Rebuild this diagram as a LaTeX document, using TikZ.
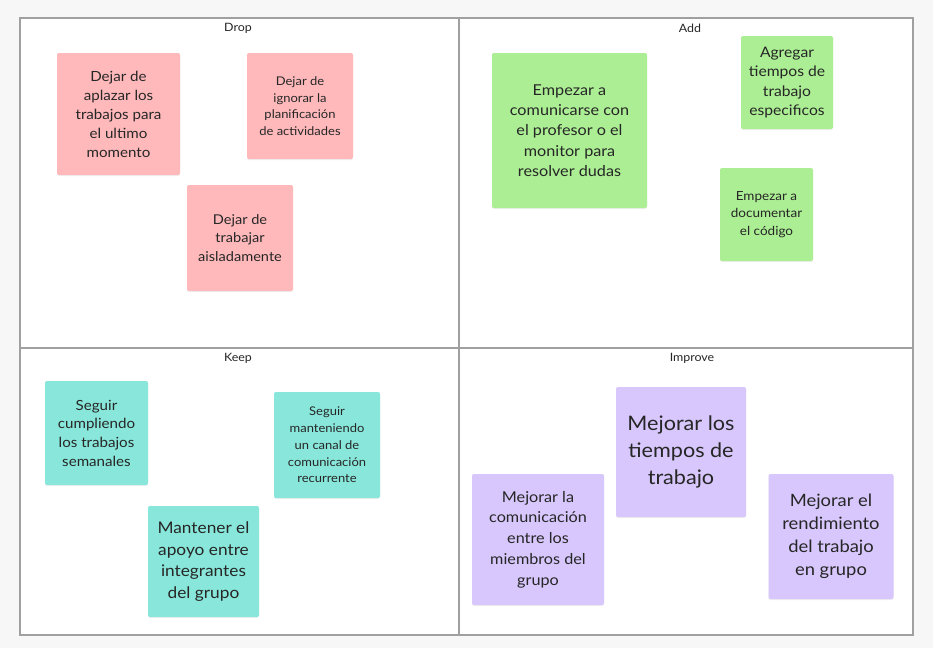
\documentclass[tikz,border=0pt]{standalone}
\usepackage{fontspec}
\setmainfont{Lato}[FakeStretch=1.08]
\usepackage{tikz}
\usetikzlibrary{shadows}
\definecolor{dropc}{HTML}{FFB9BB}
\definecolor{addc}{HTML}{ACEE94}
\definecolor{keepc}{HTML}{88E7DA}
\definecolor{imprc}{HTML}{D7C7FC}
\definecolor{framec}{HTML}{A0A0A0}
\newcommand\fsz[2]{\fontsize{#1}{#2}\selectfont}

\begin{document}
\begin{tikzpicture}[x=1pt,y=-1pt,
  note/.style={rectangle,rounded corners=2pt,align=center,inner sep=0pt,text=black!85,
    drop shadow={opacity=0.12,shadow xshift=0pt,shadow yshift=-1pt}},
  dropnote/.style={note,fill=dropc},
  addnote/.style={note,fill=addc},
  keepnote/.style={note,fill=keepc},
  imprnote/.style={note,fill=imprc},
  title/.style={font=\fsz{11.5}{13},text=black!85}]
% background and frame
\fill[black!3] (0,0) rectangle (933,648);
\fill[white] (20,18) rectangle (913,635);
\draw[framec,line width=1.3pt] (20,18) rectangle (913,635);
\draw[framec,line width=1.3pt] (459,18) -- (459,635);
\draw[framec,line width=1.3pt] (20,348) -- (913,348);
% quadrant titles
\node[title] (tdrop) at (238,28) {Drop};
\node[title] (tadd) at (690,28) {Add};
\node[title] (tkeep) at (238,358) {Keep};
\node[title] (timpr) at (692,358) {Improve};
% Drop
\node[dropnote,minimum width=123pt,minimum height=122pt,font=\fsz{14}{19}] (d1) at (118.5,114) {Dejar de\\aplazar los\\trabajos para\\el ultimo\\momento};
\node[dropnote,minimum width=106pt,minimum height=106pt,font=\fsz{12}{16.7}] (d2) at (300,106) {Dejar de\\ignorar la\\planificación\\de actividades};
\node[dropnote,minimum width=106pt,minimum height=106pt,font=\fsz{13.5}{18.5}] (d3) at (240,238) {Dejar de\\trabajar\\aisladamente};
% Add
\node[addnote,minimum width=155pt,minimum height=155pt,font=\fsz{15}{20.3}] (a1) at (569.5,130.5) {Empezar a\\comunicarse con\\el profesor o el\\monitor para\\resolver dudas};
\node[addnote,minimum width=92pt,minimum height=93pt,font=\fsz{14.5}{19.3}] (a2) at (787,82.5) {Agregar\\tiempos de\\trabajo\\especificos};
\node[addnote,minimum width=93pt,minimum height=93pt,font=\fsz{12.5}{17.3}] (a3) at (766.5,214.5) {Empezar a\\documentar\\el código};
% Keep
\node[keepnote,minimum width=103pt,minimum height=104pt,font=\fsz{14}{18.7}] (k1) at (96.5,433) {Seguir\\cumpliendo\\los trabajos\\semanales};
\node[keepnote,minimum width=106pt,minimum height=106pt,font=\fsz{12}{16.7}] (k2) at (327,445) {Seguir\\manteniendo\\un canal de\\comunicación\\recurrente};
\node[keepnote,minimum width=111pt,minimum height=111pt,font=\fsz{16}{21.7}] (k3) at (203.5,561.5) {Mantener el\\apoyo entre\\integrantes\\del grupo};
% Improve
\node[imprnote,minimum width=132pt,minimum height=131pt,font=\fsz{15}{20.7}] (i1) at (538,539.5) {Mejorar la\\comunicación\\entre los\\miembros del\\grupo};
\node[imprnote,minimum width=130pt,minimum height=130pt,font=\fsz{20}{27.3}] (i2) at (681,452) {Mejorar los\\tiempos de\\trabajo};
\node[imprnote,minimum width=125pt,minimum height=125pt,font=\fsz{17}{23}] (i3) at (831,536.5) {Mejorar el\\rendimiento\\del trabajo\\en grupo};
\end{tikzpicture}
\end{document}
